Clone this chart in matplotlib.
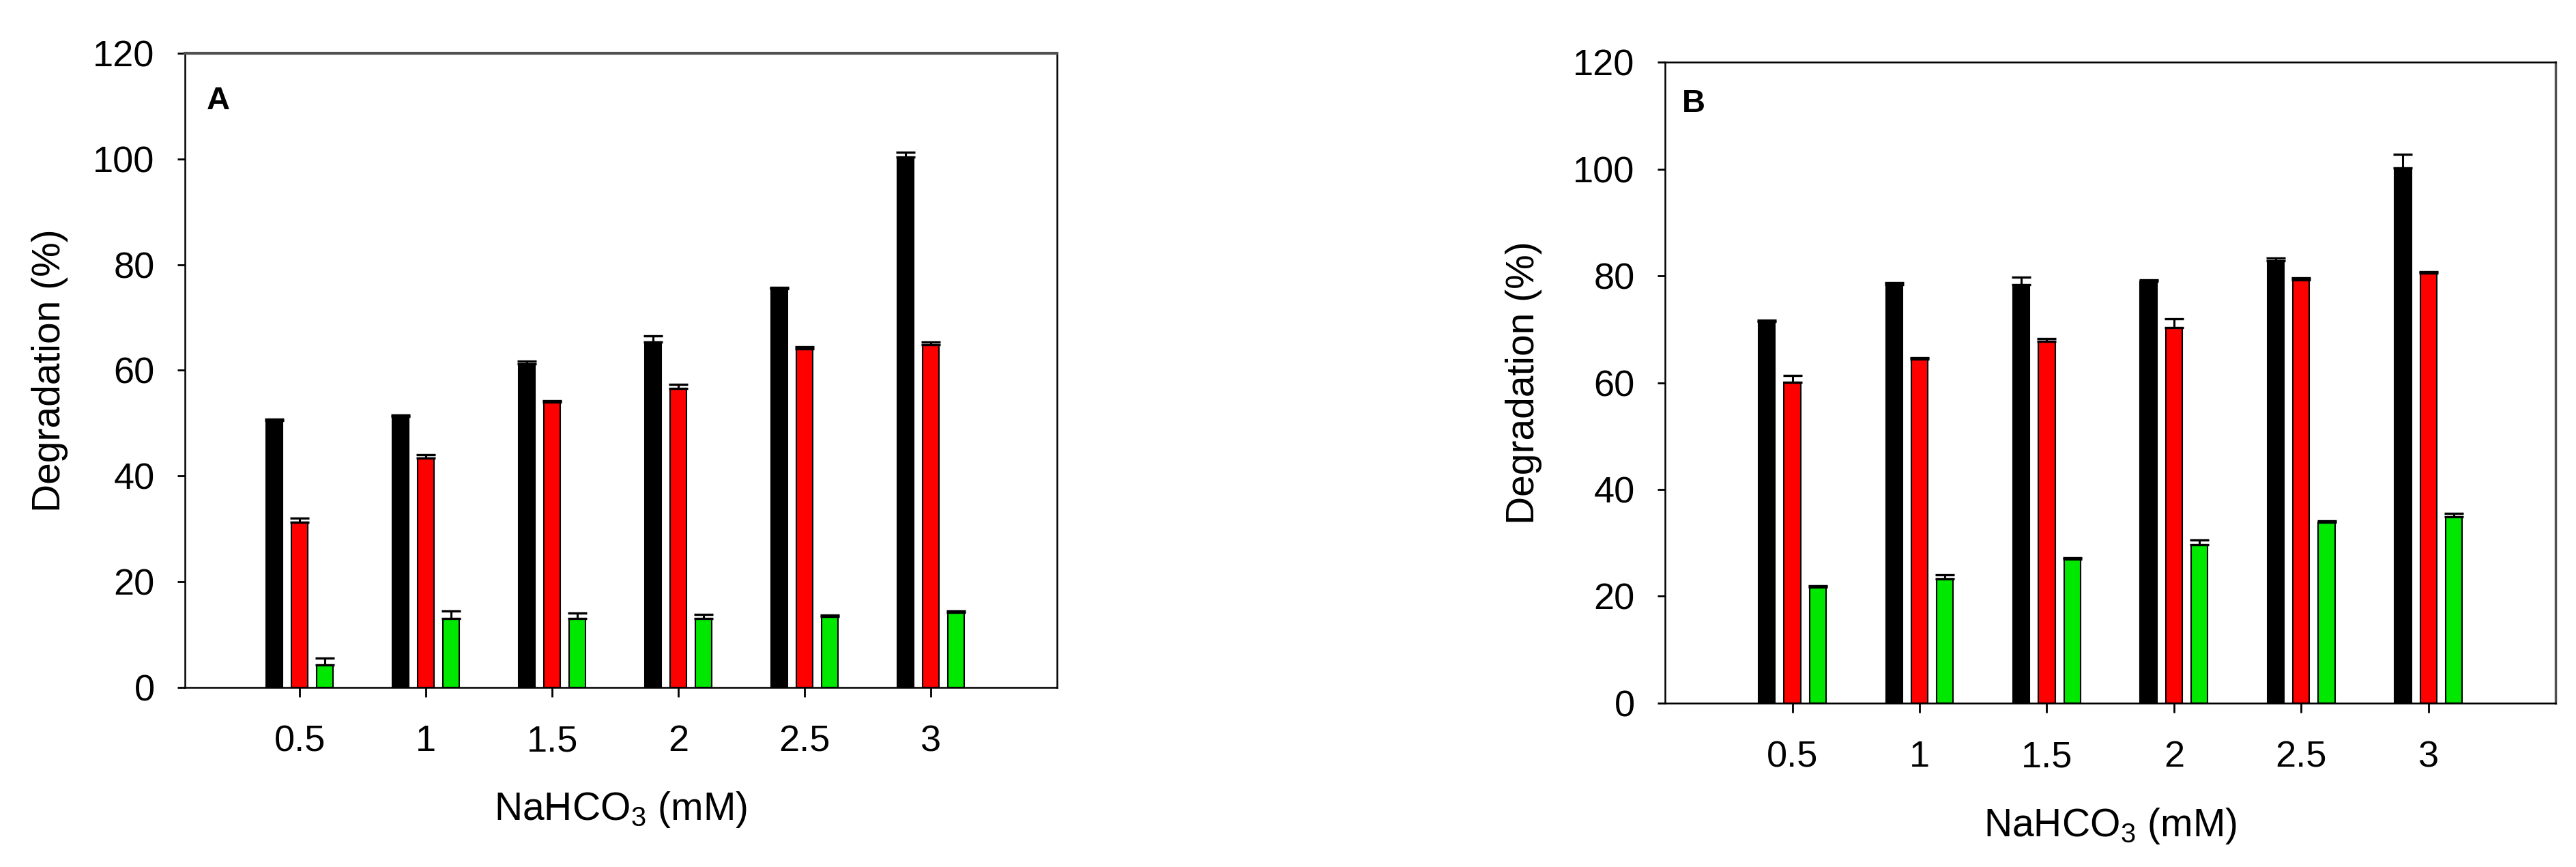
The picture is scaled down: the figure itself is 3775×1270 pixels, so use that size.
import numpy as np
import matplotlib
matplotlib.use("Agg")
import matplotlib.pyplot as plt

plt.rcParams['font.family'] = ['Liberation Sans', 'DejaVu Sans']
plt.rcParams['mathtext.fontset'] = 'custom'
plt.rcParams['mathtext.rm'] = 'Liberation Sans'

# ---- data ----
categories = ['0.5', '1', '1.5', '2', '2.5', '3']

a_black = [50.5, 51.3, 61.2, 65.3, 75.4, 100.3]
a_black_err = [0.3, 0.3, 0.6, 1.2, 0.3, 1.0]
a_red = [31.3, 43.4, 54.0, 56.6, 64.1, 64.8]
a_red_err = [0.7, 0.7, 0.3, 0.8, 0.3, 0.6]
a_green = [4.3, 13.0, 13.0, 13.0, 13.4, 14.2]
a_green_err = [1.2, 1.5, 1.1, 0.8, 0.3, 0.3]

b_black = [71.5, 78.4, 78.4, 79.0, 82.8, 100.2]
b_black_err = [0.2, 0.3, 1.4, 0.3, 0.5, 2.6]
b_red = [60.1, 64.4, 67.7, 70.3, 79.3, 80.5]
b_red_err = [1.3, 0.3, 0.6, 1.7, 0.3, 0.3]
b_green = [21.7, 23.3, 27.0, 29.6, 33.9, 34.9]
b_green_err = [0.3, 0.7, 0.2, 1.0, 0.2, 0.6]

yticks = [0, 20, 40, 60, 80, 100, 120]
xlabel = 'NaHCO$_\\mathregular{3}$ (mM)'
ylabel = 'Degradation (%)'
colors = ['#000000', '#ff0000', '#00e800']

fig = plt.figure(figsize=(37.75, 12.7), dpi=100)
axA = fig.add_axes([0.0718, 0.2071, 0.4103 - 0.0718, 0.9386 - 0.2071])
axB = fig.add_axes([0.6464, 0.1890, 0.9921 - 0.6464, 0.9283 - 0.1890])

def draw(ax, series, errs, letter, xlim, letter_xy, ylab_x):
    x = np.arange(len(categories))
    offsets = [-0.2, 0.0, 0.2]
    w = 0.13
    for vals, err, c, off in zip(series, errs, colors, offsets):
        ax.bar(x + off, vals, width=w, color=c, edgecolor='black', linewidth=1.5, zorder=2)
        ax.errorbar(x + off, vals, yerr=[np.zeros(len(err)), err], fmt='none',
                    ecolor='black', elinewidth=2.2, capsize=10, capthick=2.4, zorder=3)
    ax.set_xlim(*xlim)
    ax.set_ylim(0, 120)
    ax.set_yticks(yticks)
    ax.set_xticks(x)
    ax.set_xticklabels(categories)
    ax.tick_params(axis='y', direction='out', length=8, width=2, labelsize=39, pad=24)
    ax.tick_params(axis='x', direction='out', length=10, width=2, labelsize=39, pad=29)
    for s in ax.spines.values():
        s.set_linewidth(1.8)
        s.set_color('black')
    ax.set_xlabel(xlabel, fontsize=41)
    ax.xaxis.set_label_coords(0.5, -0.161)
    ax.set_ylabel(ylabel, fontsize=41)
    ax.yaxis.set_label_coords(ylab_x, 0.5)
    ax.text(letter_xy[0], letter_xy[1], letter, transform=ax.transAxes, fontsize=34,
            fontweight='bold', ha='left', va='top')

draw(axA, [a_black, a_red, a_green], [a_black_err, a_red_err, a_green_err],
     'A', (-0.91, 6.0), (0.025, 0.948), -0.134)
draw(axB, [b_black, b_red, b_green], [b_black_err, b_red_err, b_green_err],
     'B', (-1.0, 6.0), (0.019, 0.958), -0.138)

axA.spines['top'].set_color('#505050')
axA.spines['top'].set_linewidth(3)
axB.spines['right'].set_color('#505050')
axB.spines['right'].set_linewidth(2.5)

fig.savefig('out.png', dpi=100)
